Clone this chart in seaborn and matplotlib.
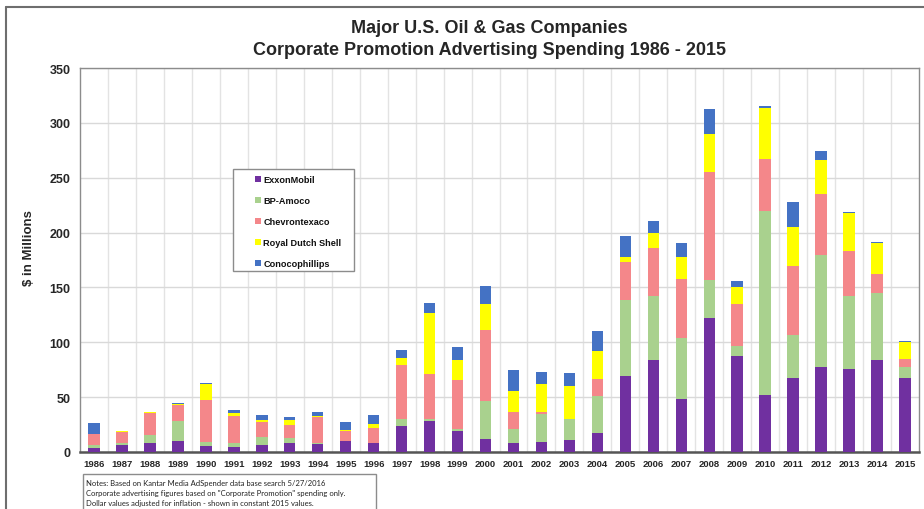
import matplotlib
matplotlib.use("Agg")
import matplotlib.pyplot as plt
import seaborn as sns
import pandas as pd
import numpy as np
from matplotlib.lines import Line2D
from matplotlib.patches import Rectangle

years = [str(y) for y in range(1986, 2016)]
exxonmobil = [4, 6, 8.6, 10, 5.2, 4.3, 6.4, 8.3, 7, 9.8, 8.2, 23.6, 27.9, 19.1, 11.8,
              8.2, 8.8, 10.9, 17.3, 69.7, 83.4, 48.1, 122.3, 87.6, 51.7, 67, 77.9, 75.2, 83.7, 67]
bp_amoco = [2, 2.5, 6.7, 18, 4, 3.7, 7.4, 4.3, 1.6, 0.3, 0.3, 6.7, 1.8, 1.8, 34.3,
            13, 25.4, 19.1, 33.3, 68.8, 58.7, 55.4, 34.1, 9.2, 168, 39.5, 101.6, 66.6, 61.2, 10.3]
chevrontexaco = [10, 9.5, 20.3, 15, 38.3, 24.8, 13.8, 11.6, 23.3, 9.2, 13, 48.8, 41.8, 44.3, 65.1,
                 15.5, 2.5, 0.3, 15.8, 34.7, 43.8, 54.1, 98.6, 38.3, 47.5, 62.7, 55.7, 41.1, 17.3, 7.9]
royal_dutch_shell = [0, 1.5, 0.6, 1, 14.8, 2.8, 1.2, 4.6, 0.6, 0.7, 4.3, 7, 54.9, 18.8, 23.6,
                     19.1, 25.7, 30, 25.7, 4.8, 13.7, 19.8, 34.7, 15.5, 46.3, 35.9, 31.4, 35, 28, 15.2]
conocophillips = [10.4, 0, 0, 0.8, 0.9, 2.7, 4.6, 2.8, 3.7, 7, 8.2, 7, 9.1, 11.8, 16.1,
                  18.5, 10.9, 12.1, 17.9, 19.2, 10.9, 13.1, 22.8, 5.2, 1.5, 22.8, 7.9, 0.9, 0.9, 1.2]
series_names = ["ExxonMobil", "BP-Amoco", "Chevrontexaco", "Royal Dutch Shell", "Conocophillips"]
series_values = [exxonmobil, bp_amoco, chevrontexaco, royal_dutch_shell, conocophillips]
colors = ["#7030A0", "#A9D18E", "#F4878A", "#FFFF00", "#4472C4"]

sns.set_theme(style="white")
plt.rcParams["font.family"] = ["Liberation Sans", "DejaVu Sans"]

W, H = 924, 510
fig = plt.figure(figsize=(W / 100, H / 100), dpi=100)
ax = fig.add_axes([80 / W, 57 / H, 839 / W, 384 / H])

cum = np.cumsum(np.array(series_values, dtype=float), axis=0)
for i in range(len(series_names) - 1, -1, -1):
    df = pd.DataFrame({"Year": years, "Value": cum[i]})
    sns.barplot(data=df, x="Year", y="Value", color=colors[i], saturation=1,
                width=0.41, linewidth=0, ax=ax, zorder=3)

ax.set_xlim(-0.5, len(years) - 0.5)
ax.set_ylim(0, 350)
ax.set_xticks(range(len(years)))
ax.set_xticklabels(years, fontsize=6.8, fontweight="bold")
ax.set_yticks(range(0, 351, 50))
ax.set_yticklabels([str(v) for v in range(0, 351, 50)], fontsize=9, fontweight="bold")
ax.set_xticks(np.arange(0.5, len(years) - 1, 1), minor=True)
ax.tick_params(axis="both", which="both", length=0)
ax.tick_params(axis="y", pad=7)
ax.tick_params(axis="x", pad=5)
ax.grid(axis="y", which="major", color="#d9d9d9", linewidth=1, zorder=0)
ax.grid(axis="x", which="minor", color="#e3e3e3", linewidth=1, zorder=0)
ax.grid(axis="x", which="major", visible=False)
ax.set_axisbelow(True)
ax.set_xlabel("")
ax.set_ylabel("$ in Millions", fontsize=9.5, fontweight="bold", va="center")
ax.yaxis.set_label_coords((29 - 80) / 839, (453 - 248) / 384)
for side in ["left", "top", "right"]:
    ax.spines[side].set_color("#8c8c8c")
    ax.spines[side].set_linewidth(1)
ax.spines["bottom"].set_color("#555555")
ax.spines["bottom"].set_linewidth(1.8)

fig.text(489 / W, 1 - 33.3 / H, "Major U.S. Oil & Gas Companies", ha="center", va="baseline",
         fontsize=13, fontweight="bold")
fig.text(489 / W, 1 - 55 / H, "Corporate Promotion Advertising Spending 1986 - 2015",
         ha="center", va="baseline", fontsize=13, fontweight="bold")

# legend frame + legend
ax.add_patch(Rectangle((233 / W, 1 - 272 / H), 121 / W, 102 / H, transform=fig.transFigure,
                       facecolor="white", edgecolor="#8c8c8c", linewidth=1,
                       zorder=5, clip_on=False))
handles = [Line2D([0], [0], marker="s", linestyle="", markersize=4,
                  markerfacecolor=c, markeredgewidth=0) for c in colors]
leg = ax.legend(handles, series_names, loc="upper left",
                bbox_to_anchor=((255 - 80) / 839, (453 - 176.5) / 384),
                prop={"size": 6.6, "weight": "bold"}, frameon=False,
                labelspacing=1.3, handletextpad=0.3, handlelength=0.6,
                borderpad=0, borderaxespad=0)
leg.set_zorder(6)
for t in leg.get_texts():
    t.set_color("#111111")

# notes box
fig.patches.append(Rectangle((83 / W, -0.01), 293 / W, 35 / H + 0.01, transform=fig.transFigure,
                             facecolor="white", edgecolor="#8c8c8c", linewidth=1, figure=fig))
notes = ["Notes: Based on Kantar Media AdSpender data base search 5/27/2016",
         "Corporate advertising figures based on \"Corporate Promotion\" spending only.",
         "Dollar values adjusted for inflation - shown in constant 2015 values."]
for k, line in enumerate(notes):
    fig.text(86 / W, 1 - (484 + 10 * k) / H, line, ha="left", va="center",
             fontsize=5.5, color="#222222", family=["Lato", "DejaVu Sans"])

# outer frame lines
fig.add_artist(Line2D([6 / W, 1], [1 - 8 / H, 1 - 8 / H], transform=fig.transFigure,
                      color="#6e6e6e", linewidth=1.5))
fig.add_artist(Line2D([6 / W, 6 / W], [0, 1 - 8 / H], transform=fig.transFigure,
                      color="#6e6e6e", linewidth=1.5))

fig.savefig("out.png", dpi=100)
